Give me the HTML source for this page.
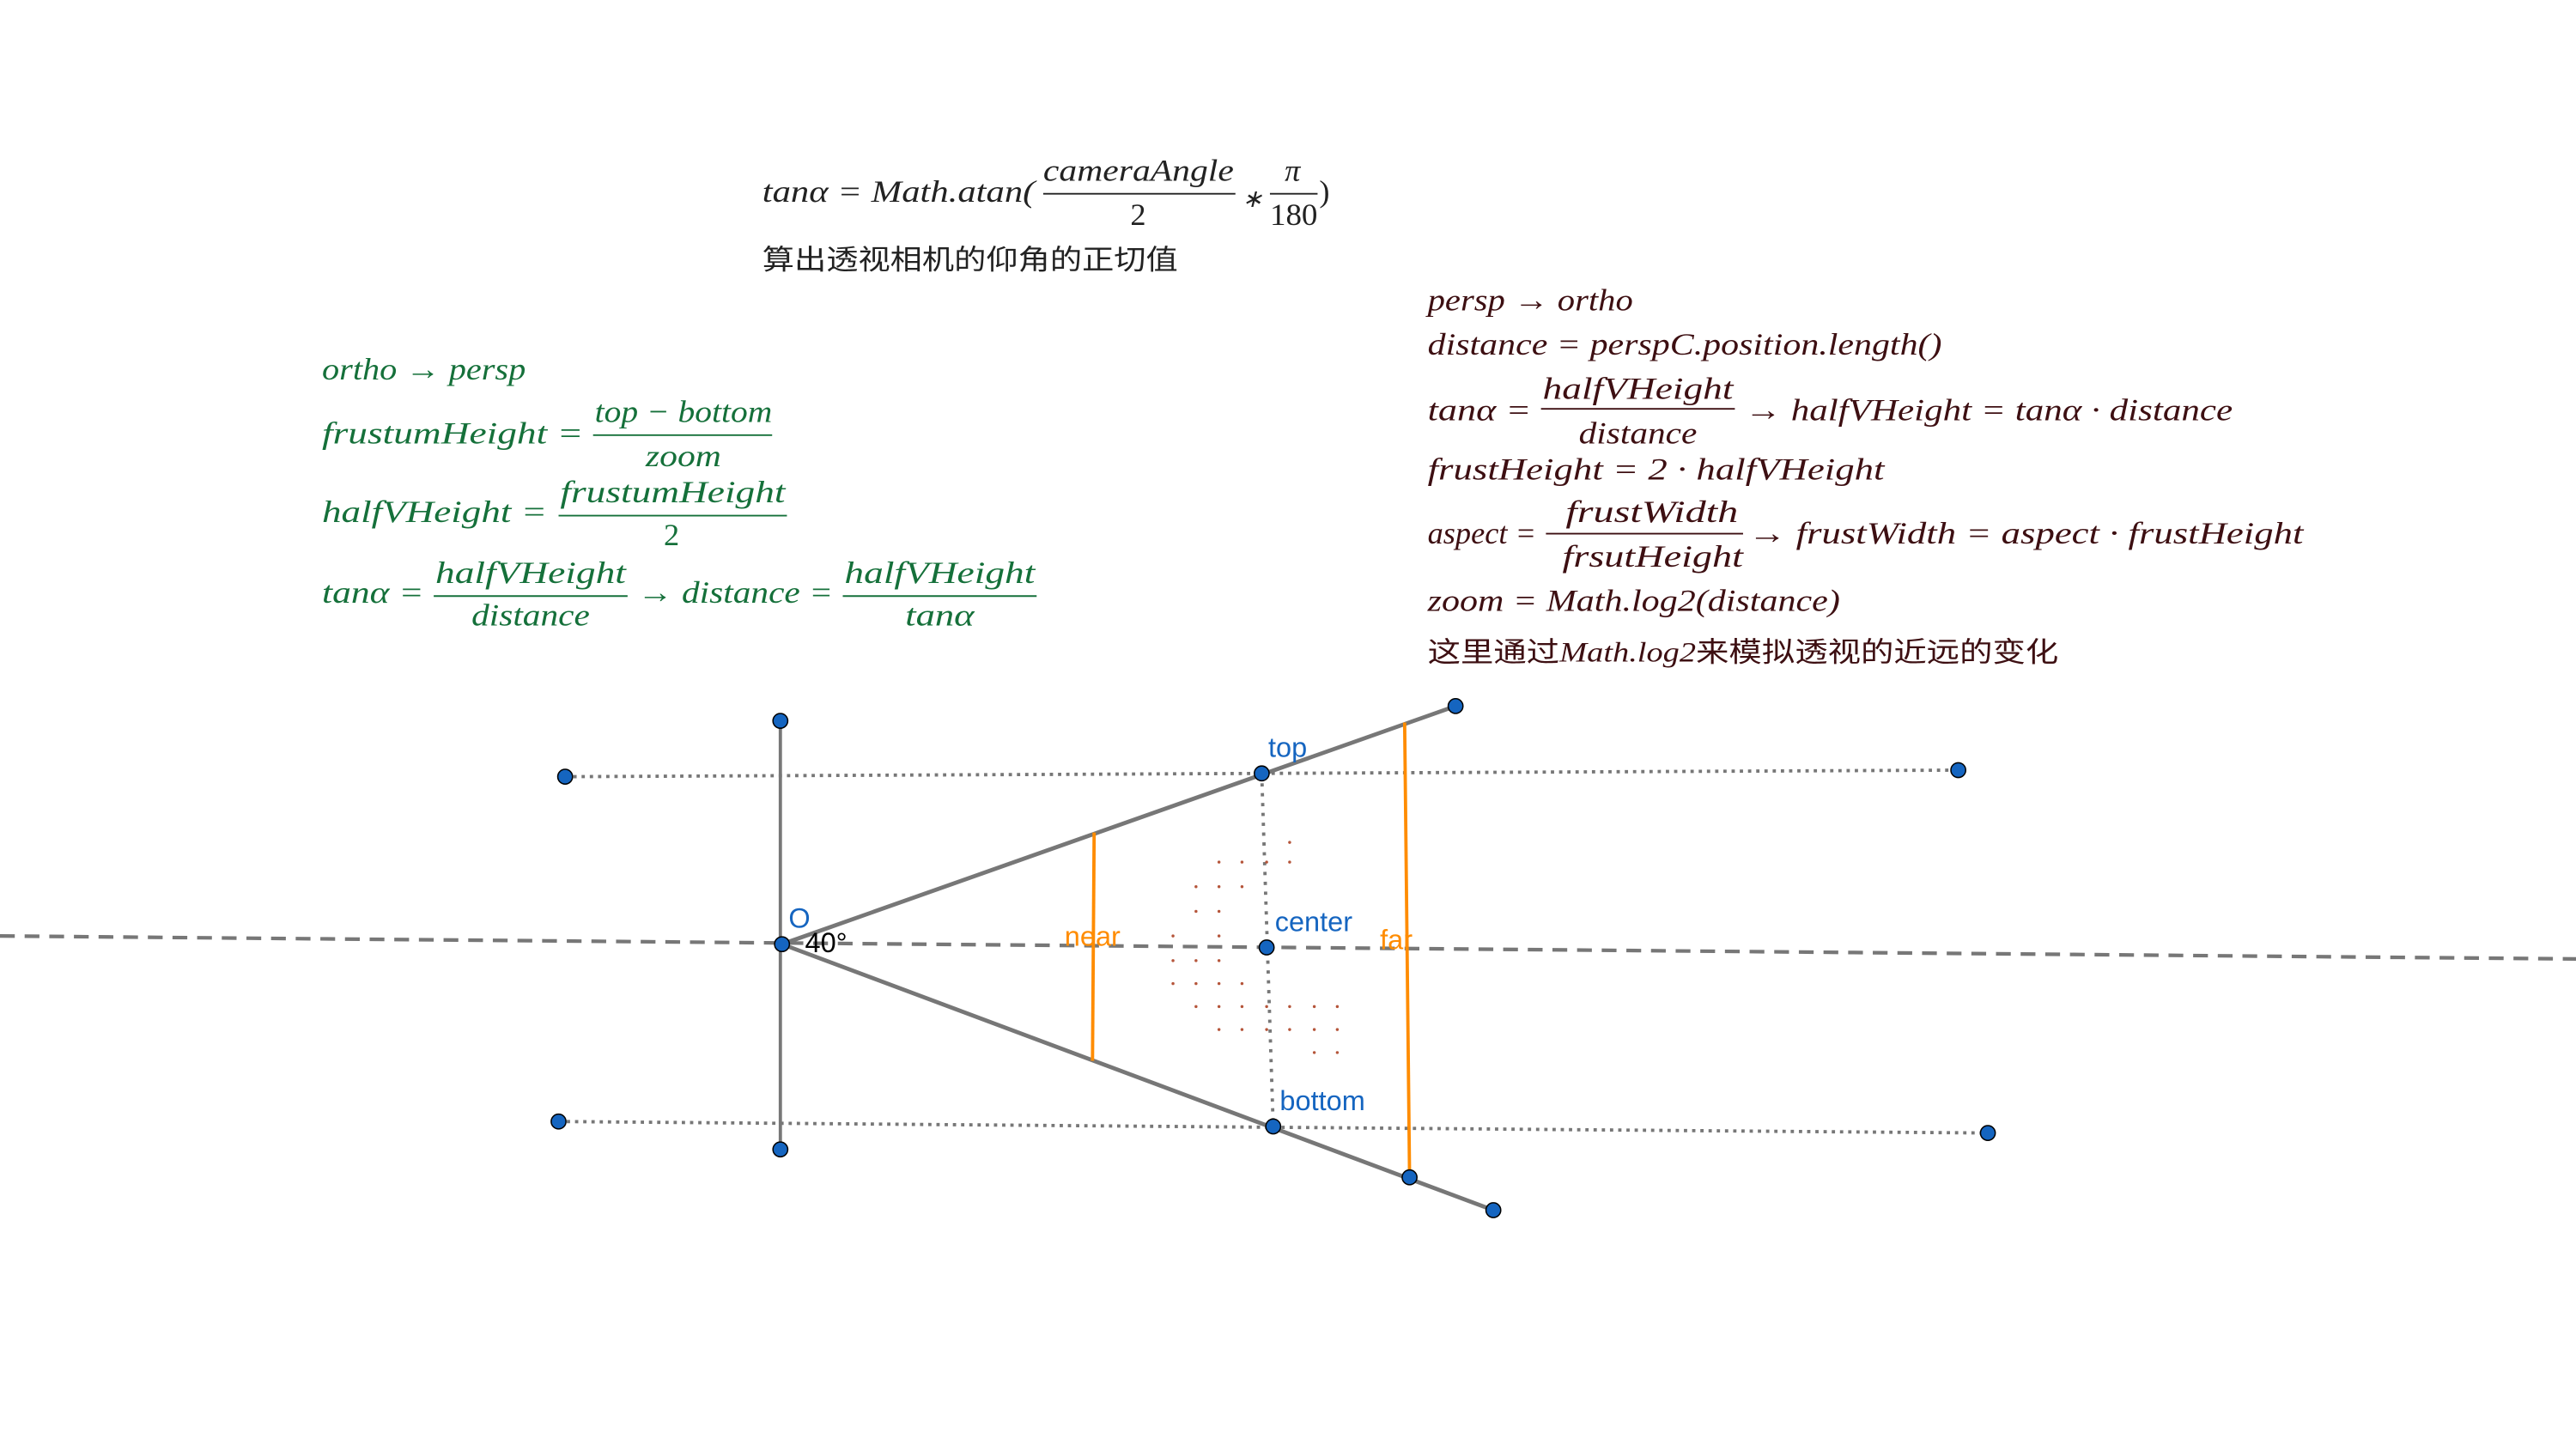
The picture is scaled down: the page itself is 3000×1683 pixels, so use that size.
<!DOCTYPE html>
<html><head><meta charset="utf-8"><style>
html,body{margin:0;padding:0;background:#fff;}
svg{display:block;}
text{font-family:"Liberation Serif","Noto Serif CJK SC",serif;font-style:italic;font-size:19px;}
.cn{font-family:"Liberation Serif","Noto Sans CJK SC",sans-serif;font-style:normal;font-size:17px;}
.g{fill:#15703a;} .r{fill:#3d0f12;} .k{fill:#222;}
.lbl text{font-family:"Liberation Sans","DejaVu Sans",sans-serif;font-style:normal;font-size:17px;}
</style></head><body>
<svg width="3000" height="1683" viewBox="0 0 1568 880" preserveAspectRatio="none" xmlns="http://www.w3.org/2000/svg">
<rect width="1568" height="880" fill="#fff"/>
<g class="k">
<text x="464" y="123" textLength="166" lengthAdjust="spacingAndGlyphs">tanα = Math.atan(</text>
<text x="635" y="110" textLength="116" lengthAdjust="spacingAndGlyphs">cameraAngle</text>
<text x="688" y="137" style="font-style:normal">2</text>
<text x="756" y="126" style="font-size:15px">∗</text>
<text x="782" y="110">π</text>
<text x="773" y="137" style="font-style:normal" textLength="29" lengthAdjust="spacingAndGlyphs">180</text>
<text x="803" y="123" style="font-style:normal">)</text>
</g>
<line x1="635" y1="118" x2="752" y2="118" stroke="#222" stroke-width="1"/>
<line x1="773" y1="118" x2="802" y2="118" stroke="#222" stroke-width="1"/>
<text class="cn k" x="464" y="164" textLength="253" lengthAdjust="spacingAndGlyphs">算出透视相机的仰角的正切值</text>
<g class="g">
<text x="196" y="231" textLength="124" lengthAdjust="spacingAndGlyphs">ortho → persp</text>
<text x="196" y="270" textLength="159" lengthAdjust="spacingAndGlyphs">frustumHeight =</text>
<text x="362" y="257" textLength="108" lengthAdjust="spacingAndGlyphs">top − bottom</text>
<text x="393" y="284" textLength="46" lengthAdjust="spacingAndGlyphs">zoom</text>
<text x="196" y="318" textLength="137" lengthAdjust="spacingAndGlyphs">halfVHeight =</text>
<text x="341" y="306" textLength="137" lengthAdjust="spacingAndGlyphs">frustumHeight</text>
<text x="404" y="332" style="font-style:normal">2</text>
<text x="196" y="367" textLength="62" lengthAdjust="spacingAndGlyphs">tanα =</text>
<text x="265" y="355" textLength="116" lengthAdjust="spacingAndGlyphs">halfVHeight</text>
<text x="287" y="381" textLength="72" lengthAdjust="spacingAndGlyphs">distance</text>
<text x="388" y="367" textLength="119" lengthAdjust="spacingAndGlyphs">→ distance =</text>
<text x="514" y="355" textLength="116" lengthAdjust="spacingAndGlyphs">halfVHeight</text>
<text x="551" y="381" textLength="42" lengthAdjust="spacingAndGlyphs">tanα</text>
</g>
<g stroke="#15703a" stroke-width="1">
<line x1="361" y1="265" x2="470" y2="265"/>
<line x1="340" y1="314" x2="479" y2="314"/>
<line x1="264" y1="363" x2="382" y2="363"/>
<line x1="513" y1="363" x2="631" y2="363"/>
</g>
<g class="r">
<text x="869" y="189" textLength="125" lengthAdjust="spacingAndGlyphs">persp → ortho</text>
<text x="869" y="216" textLength="313" lengthAdjust="spacingAndGlyphs">distance = perspC.position.length()</text>
<text x="869" y="256" textLength="63" lengthAdjust="spacingAndGlyphs">tanα =</text>
<text x="939" y="243" textLength="116" lengthAdjust="spacingAndGlyphs">halfVHeight</text>
<text x="961" y="270" textLength="72" lengthAdjust="spacingAndGlyphs">distance</text>
<text x="1062" y="256" textLength="297" lengthAdjust="spacingAndGlyphs">→ halfVHeight = tanα · distance</text>
<text x="869" y="292" textLength="278" lengthAdjust="spacingAndGlyphs">frustHeight = 2 · halfVHeight</text>
<text x="869" y="331">aspect =</text>
<text x="953" y="318" textLength="105" lengthAdjust="spacingAndGlyphs">frustWidth</text>
<text x="951" y="345" textLength="110" lengthAdjust="spacingAndGlyphs">frsutHeight</text>
<text x="1064" y="331" textLength="338" lengthAdjust="spacingAndGlyphs">→ frustWidth = aspect · frustHeight</text>
<text x="869" y="372" textLength="251" lengthAdjust="spacingAndGlyphs">zoom = Math.log2(distance)</text>
<text class="cn r" x="869" y="403" textLength="384" lengthAdjust="spacingAndGlyphs">这里通过<tspan style="font-family:'Liberation Serif',serif;font-style:italic">Math.log2</tspan>来模拟透视的近远的变化</text>
</g>
<g stroke="#3d0f12" stroke-width="1">
<line x1="938" y1="249" x2="1056" y2="249"/>
<line x1="941" y1="325" x2="1061" y2="325"/>
</g>
<line x1="0" y1="570" x2="1568" y2="584" stroke="#777" stroke-width="2.2" stroke-dasharray="9,6"/>
<line x1="344" y1="473" x2="1192" y2="469" stroke="#777" stroke-width="2" stroke-dasharray="2,3"/>
<line x1="340" y1="683" x2="1210" y2="690" stroke="#777" stroke-width="2" stroke-dasharray="2,3"/>
<line x1="768" y1="471" x2="775" y2="686" stroke="#777" stroke-width="2" stroke-dasharray="2,4"/>
<line x1="475" y1="439" x2="475" y2="700" stroke="#777" stroke-width="2"/>
<line x1="476" y1="575" x2="886" y2="430" stroke="#777" stroke-width="2.5"/>
<line x1="476" y1="575" x2="909" y2="737" stroke="#777" stroke-width="2.5"/>
<line x1="666" y1="507" x2="665" y2="646" stroke="#ff8c00" stroke-width="2"/>
<line x1="855" y1="440" x2="858" y2="717" stroke="#ff8c00" stroke-width="2"/>
<g fill="#b5553a">
<circle cx="742" cy="525" r="0.9"/><circle cx="756" cy="525" r="0.9"/><circle cx="771" cy="525" r="0.9"/><circle cx="785" cy="525" r="0.9"/><circle cx="785" cy="513" r="0.9"/>
<circle cx="728" cy="540" r="0.9"/><circle cx="742" cy="540" r="0.9"/><circle cx="756" cy="540" r="0.9"/>
<circle cx="728" cy="555" r="0.9"/><circle cx="742" cy="555" r="0.9"/>
<circle cx="714" cy="570" r="0.9"/><circle cx="742" cy="570" r="0.9"/>
<circle cx="714" cy="585" r="0.9"/><circle cx="728" cy="585" r="0.9"/><circle cx="742" cy="585" r="0.9"/>
<circle cx="714" cy="599" r="0.9"/><circle cx="728" cy="599" r="0.9"/><circle cx="742" cy="599" r="0.9"/><circle cx="756" cy="599" r="0.9"/>
<circle cx="728" cy="613" r="0.9"/><circle cx="742" cy="613" r="0.9"/><circle cx="756" cy="613" r="0.9"/><circle cx="771" cy="613" r="0.9"/><circle cx="785" cy="613" r="0.9"/><circle cx="800" cy="613" r="0.9"/><circle cx="814" cy="613" r="0.9"/>
<circle cx="742" cy="627" r="0.9"/><circle cx="756" cy="627" r="0.9"/><circle cx="771" cy="627" r="0.9"/><circle cx="785" cy="627" r="0.9"/><circle cx="800" cy="627" r="0.9"/><circle cx="814" cy="627" r="0.9"/>
<circle cx="800" cy="641" r="0.9"/><circle cx="814" cy="641" r="0.9"/>
</g>
<g fill="#1565c0" stroke="#000" stroke-width="0.8">
<circle cx="475" cy="439" r="4.5"/><circle cx="475" cy="700" r="4.5"/>
<circle cx="344" cy="473" r="4.5"/><circle cx="1192" cy="469" r="4.5"/>
<circle cx="340" cy="683" r="4.5"/><circle cx="1210" cy="690" r="4.5"/>
<circle cx="768" cy="471" r="4.5"/><circle cx="771" cy="577" r="4.5"/><circle cx="775" cy="686" r="4.5"/>
<circle cx="886" cy="430" r="4.5"/><circle cx="909" cy="737" r="4.5"/><circle cx="858" cy="717" r="4.5"/>
<circle cx="476" cy="575" r="4.5"/>
</g>
<g class="lbl">
<text x="480" y="565" fill="#1565c0">O</text>
<text x="490" y="580" fill="#000">40°</text>
<text x="772" y="461" fill="#1565c0">top</text>
<text x="776" y="567" fill="#1565c0">center</text>
<text x="779" y="676" fill="#1565c0">bottom</text>
<text x="648" y="576" fill="#ff8c00">near</text>
<text x="840" y="578" fill="#ff8c00">far</text>
</g>
</svg>
</body></html>
